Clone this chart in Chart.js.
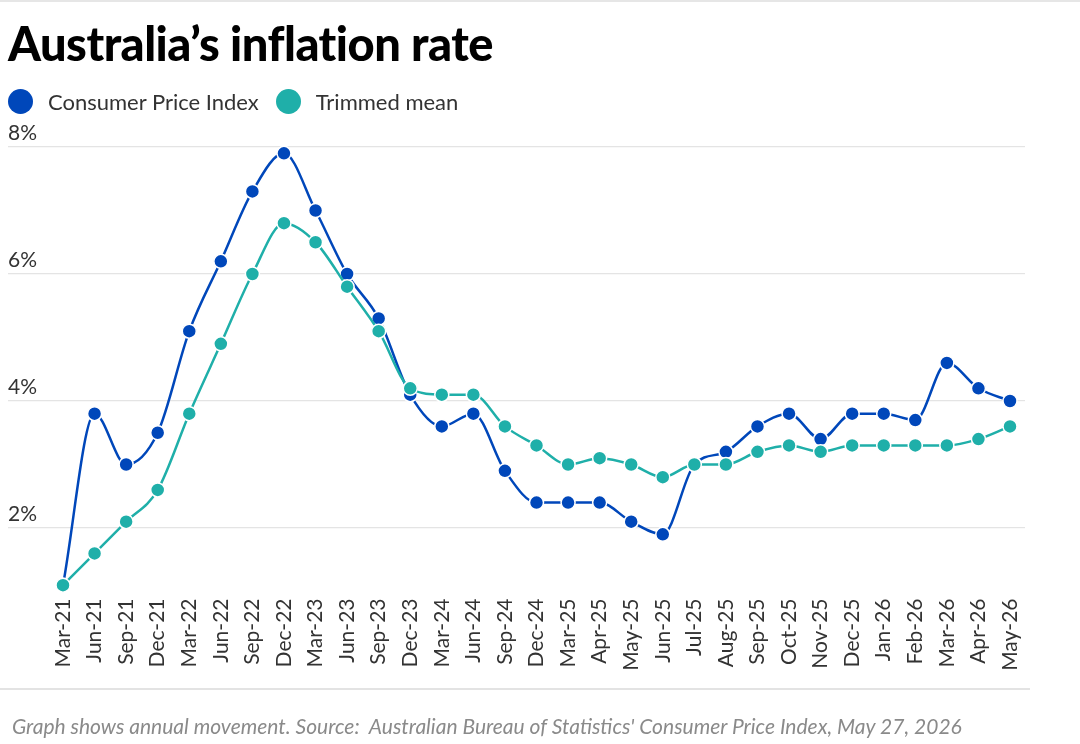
<!DOCTYPE html>
<html>
<head>
<meta charset="utf-8">
<script src="https://cdn.jsdelivr.net/npm/chart.js@4.4.1/dist/chart.umd.min.js"></script>
<style>
  html, body { margin: 0; padding: 0; background: #fff; }
  body { width: 1080px; height: 744px; position: relative; overflow: hidden; font-family: Lato, "Noto Sans", sans-serif; }
  #topline { position: absolute; left: 0; top: 0; width: 1080px; height: 2px; background: #e6e6e6; }
  #title { position: absolute; left: 8px; top: 15px; font-size: 47px; font-weight: 900; color: #000; letter-spacing: -0.5px; white-space: nowrap; }
  #legend { position: absolute; left: 8px; top: 88px; font-size: 22px; color: #333; white-space: nowrap; display: flex; align-items: center; }
  .sw { display: inline-block; width: 25px; height: 25px; border-radius: 50%; margin-right: 15px; }
  .item { display: flex; align-items: center; margin-right: 17px; }
  #rule { position: absolute; left: 0; top: 688px; width: 1030px; height: 2px; background: #e3e3e3; }
  #note { position: absolute; left: 12px; top: 713px; font-size: 21px; font-style: italic; color: #8a8a8a; white-space: pre; }
  #wrap { position: absolute; left: 0; top: 0; width: 1080px; height: 744px; }
</style>
</head>
<body>
<div id="wrap"><canvas id="c" width="1080" height="744"></canvas></div>
<div id="topline"></div>
<div id="title">Australia’s inflation rate</div>
<div id="legend">
  <span class="item"><span class="sw" style="background:#0047BA"></span>Consumer Price Index</span>
  <span class="item"><span class="sw" style="background:#1FAFA9"></span>Trimmed mean</span>
</div>
<div id="rule"></div>
<div id="note">Graph shows annual movement. Source:  Australian Bureau of Statistics' Consumer Price Index, May 27, 2026</div>
<script>
const categories = ["Mar-21","Jun-21","Sep-21","Dec-21","Mar-22","Jun-22","Sep-22","Dec-22","Mar-23","Jun-23","Sep-23","Dec-23","Mar-24","Jun-24","Sep-24","Dec-24","Mar-25","Apr-25","May-25","Jun-25","Jul-25","Aug-25","Sep-25","Oct-25","Nov-25","Dec-25","Jan-26","Feb-26","Mar-26","Apr-26","May-26"];
const cpiValues = [1.1,3.8,3.0,3.5,5.1,6.2,7.3,7.9,7.0,6.0,5.3,4.1,3.6,3.8,2.9,2.4,2.4,2.4,2.1,1.9,3.0,3.2,3.6,3.8,3.4,3.8,3.8,3.7,4.6,4.2,4.0];
const trimmedValues = [1.1,1.6,2.1,2.6,3.8,4.9,6.0,6.8,6.5,5.8,5.1,4.2,4.1,4.1,3.6,3.3,3.0,3.1,3.0,2.8,3.0,3.0,3.2,3.3,3.2,3.3,3.3,3.3,3.3,3.4,3.6];
const yTickValues = [2,4,6,8];
const seriesNames = ["Consumer Price Index","Trimmed mean"];

const FONT = 'Lato, "Noto Sans", sans-serif';
const keepTicks = (scale) => { scale.ticks = yTickValues.map(v => ({ value: v })); };

new Chart(document.getElementById('c'), {
  type: 'line',
  data: {
    labels: categories,
    datasets: [
      {
        label: seriesNames[1], data: trimmedValues, order: 0,
        borderColor: '#1FAFA9', backgroundColor: '#1FAFA9', borderWidth: 2.5,
        pointRadius: 7, pointBorderColor: '#ffffff', pointBorderWidth: 1.5,
        cubicInterpolationMode: 'monotone', clip: false
      },
      {
        label: seriesNames[0], data: cpiValues, order: 1,
        borderColor: '#0047BA', backgroundColor: '#0047BA', borderWidth: 2.5,
        pointRadius: 7, pointBorderColor: '#ffffff', pointBorderWidth: 1.5,
        cubicInterpolationMode: 'monotone', clip: false
      }
    ]
  },
  options: {
    responsive: false,
    animation: false,
    devicePixelRatio: 1,
    layout: { padding: { left: 8, right: 55, top: 147, bottom: 0 } },
    plugins: { legend: { display: false }, tooltip: { enabled: false }, title: { display: false } },
    scales: {
      x: {
        type: 'category',
        offset: false,
        grid: { display: false, drawTicks: false },
        border: { display: false },
        ticks: {
          autoSkip: false, minRotation: 90, maxRotation: 90, padding: 7,
          color: '#333', font: { family: FONT, size: 21 }
        },
        afterFit: (s) => { s.height = 152.5; }
      },
      y: {
        position: 'left', min: 1, max: 8,
        afterBuildTicks: keepTicks,
        grid: { color: '#e4e4e4', lineWidth: 1.2, drawTicks: true, tickLength: 55, tickColor: '#e4e4e4' },
        border: { display: false },
        ticks: {
          crossAlign: 'far', padding: 0, labelOffset: -14,
          color: '#333', font: { family: FONT, size: 21 },
          callback: (v) => v + '%'
        },
        afterFit: (s) => { s.width = 55; }
      },
      y2: {
        position: 'right', min: 1, max: 8,
        afterBuildTicks: keepTicks,
        grid: { drawOnChartArea: false, drawTicks: true, tickLength: 15, tickColor: '#e4e4e4', lineWidth: 1.2 },
        border: { display: false },
        ticks: { display: false },
        afterFit: (s) => { s.width = 15; }
      }
    }
  }
});
</script>
</body>
</html>
